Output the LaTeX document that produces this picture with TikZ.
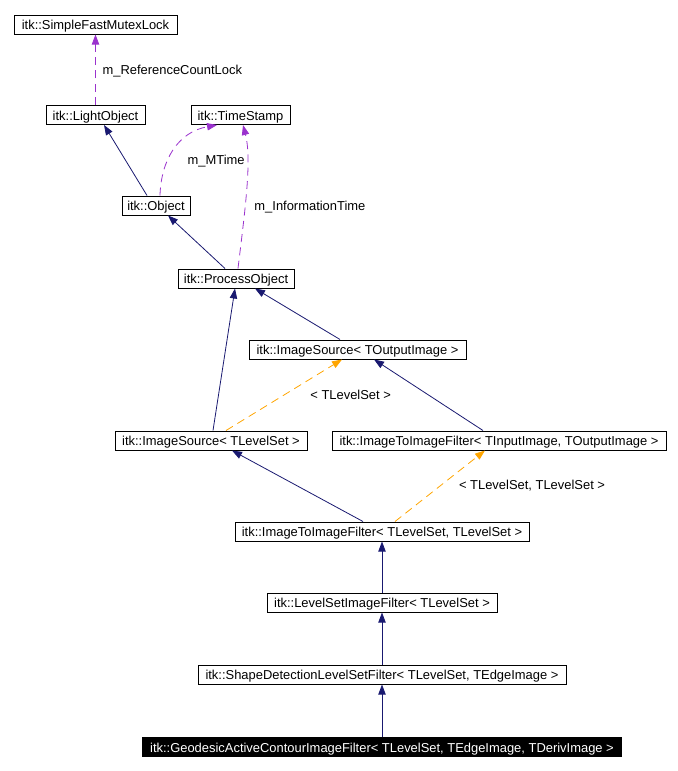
\documentclass[tikz,border=0pt]{standalone}
\usepackage{fontspec}
\setmainfont{Liberation Sans}
\usetikzlibrary{arrows.meta}
\definecolor{inhblue}{RGB}{25,25,112}
\definecolor{usepurple}{RGB}{154,50,205}
\definecolor{tmplorange}{RGB}{255,165,0}

\begin{document}
\begin{tikzpicture}[x=0.75pt, y=-0.75pt, every node/.style={font=\fontsize{9.7}{11.6}\selectfont}]
  \tikzstyle{cls}=[draw,fill=white,inner sep=0pt,text height=10.95pt,text depth=3.3pt,line width=0.75pt]
  \tikzstyle{inh}=[-{Triangle[length=7.5pt,width=5.5pt]},inhblue,line width=0.6pt]
  \tikzstyle{usage}=[-{Triangle[length=7.5pt,width=5.5pt]},usepurple,line width=0.6pt,dash pattern=on 6pt off 4pt]
  \tikzstyle{tmpl}=[-{Triangle[length=7.5pt,width=5.5pt]},tmplorange,line width=0.6pt,dash pattern=on 6pt off 4pt]
  \tikzstyle{lbl}=[inner sep=0pt,anchor=west,text=black]
  \useasboundingbox (0,0) rectangle (678,771);
  \node[cls,minimum width=122.25pt] (mutex) at (95.5,24.5) {itk::SimpleFastMutexLock};
  \node[cls,minimum width=74.25pt] (light) at (95.5,115) {itk::LightObject};
  \node[cls,minimum width=74.25pt] (tstamp) at (240.5,115) {itk::TimeStamp};
  \node[cls,minimum width=51pt] (object) at (156,205.5) {itk::Object};
  \node[cls,minimum width=87pt] (procobj) at (236,278.5) {itk::ProcessObject};
  \node[cls,minimum width=162.75pt] (isout) at (357.5,349.5) {itk::ImageSource< TOutputImage >};
  \node[cls,minimum width=144pt] (islevel) at (211,440.5) {itk::ImageSource< TLevelSet >};
  \node[cls,minimum width=250.5pt] (i2iio) at (499,440.5) {itk::ImageToImageFilter< TInputImage, TOutputImage >};
  \node[cls,minimum width=220.5pt] (i2ils) at (382,531.5) {itk::ImageToImageFilter< TLevelSet, TLevelSet >};
  \node[cls,minimum width=172.5pt] (lsif) at (382,602.5) {itk::LevelSetImageFilter< TLevelSet >};
  \node[cls,minimum width=276pt] (shape) at (382,674.5) {itk::ShapeDetectionLevelSetFilter< TLevelSet, TEdgeImage >};
  \node[cls,minimum width=359.25pt,fill=black,text=white] (geo) at (382,747) {itk::GeodesicActiveContourImageFilter< TLevelSet, TEdgeImage, TDerivImage >};
  \draw[usage] (light) -- (mutex) node[lbl,midway,xshift=5pt,yshift=-1pt] {m\_ReferenceCountLock};
  \draw[inh] ([xshift=-6.75pt]object.north) -- ([xshift=6.4pt]light.south);
  \draw[usage] ([xshift=3pt]object.north) .. controls (161,160) and (178,132) .. ([xshift=-17.6pt]tstamp.south) node[lbl,pos=0.35,xshift=15pt] {m\_MTime};
  \draw[usage] ([xshift=1.5pt]procobj.north) .. controls (245,210) and (252,160) .. ([xshift=1.9pt]tstamp.south) node[lbl,pos=0.4,xshift=6.5pt,yshift=-3pt] {m\_InformationTime};
  \draw[inh] ([xshift=-8.25pt]procobj.north) -- ([xshift=9pt]object.south);
  \draw[inh] ([xshift=-13.1pt]isout.north) -- ([xshift=14.25pt]procobj.south);
  \draw[inh] ([xshift=1.5pt]islevel.north) -- ([xshift=-0.75pt]procobj.south);
  \draw[tmpl] ([xshift=11.25pt]islevel.north) -- ([xshift=-11.6pt]isout.south) node[lbl,midway,xshift=19.5pt] {< TLevelSet >};
  \draw[inh] ([xshift=-12pt]i2iio.north) -- ([xshift=12.4pt]isout.south);
  \draw[inh] ([xshift=-14.25pt]i2ils.north) -- ([xshift=15.75pt]islevel.south);
  \draw[tmpl] ([xshift=9.75pt]i2ils.north) -- ([xshift=-10.5pt]i2iio.south) node[lbl,midway,xshift=14pt] {< TLevelSet, TLevelSet >};
  \draw[inh] (lsif) -- (i2ils);
  \draw[inh] (shape) -- (lsif);
  \draw[inh] (geo) -- (shape);
\end{tikzpicture}
\end{document}
